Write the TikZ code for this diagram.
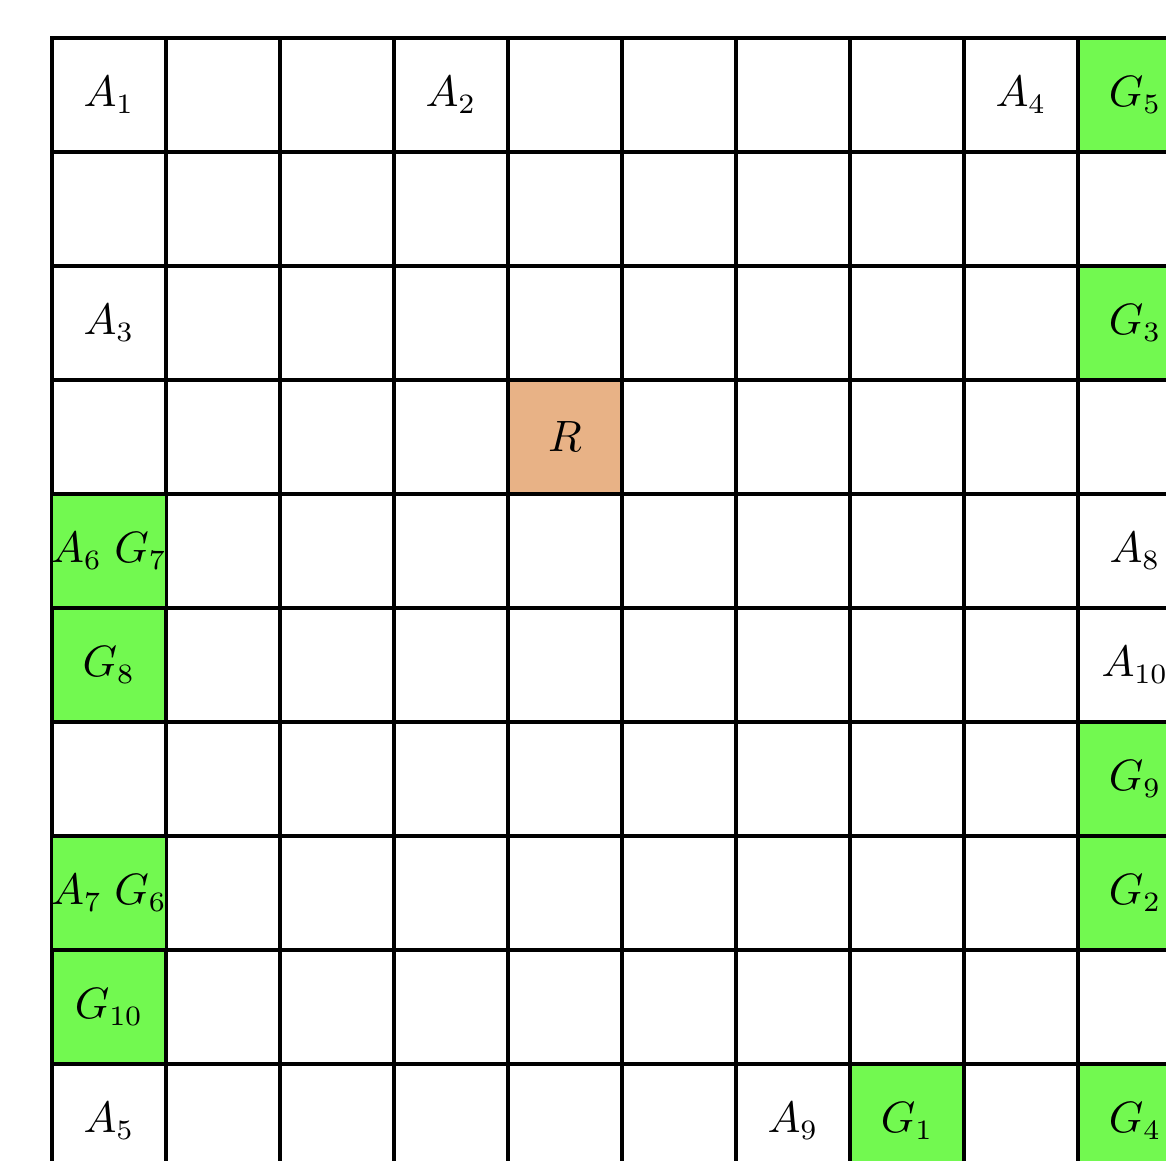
\documentclass[tikz,border=0pt]{standalone}
\usepackage{amsmath,amssymb}
\usepackage{xcolor}
\usepackage{tikz}
\definecolor{goalc}{RGB}{114,249,80}
\definecolor{robc}{RGB}{232,178,134}
\tikzset{cell/.style={draw,line width=0.8pt,minimum size=1cm,inner sep=0pt,outer sep=0pt,
    font=\fontsize{10.5pt}{12pt}\selectfont},
  goal/.style={cell,fill=goalc},
  rob/.style={cell,fill=robc}}

\begin{document}
\begin{tikzpicture}
  \useasboundingbox (-0.456,0.333) rectangle (9.772,-9.851);
  % the empty 10x10 board
  \foreach \r in {0,...,9} \foreach \c in {0,...,9} \node[cell] (c\r-\c) at (\c+0.5,-\r-0.5) {};
  % agents, goals and the robot
  \foreach \r/\c/\s/\t in {0/0/cell/{$A_1$},0/3/cell/{$A_2$},0/8/cell/{$A_4$},0/9/goal/{$G_5$},
      2/0/cell/{$A_3$},2/9/goal/{$G_3$},3/4/rob/{$R$},
      4/0/goal/{$A_6\;G_7$},4/9/cell/{$A_8$},5/0/goal/{$G_8$},5/9/cell/{$A_{10}$},
      6/9/goal/{$G_9$},7/0/goal/{$A_7\;G_6$},7/9/goal/{$G_2$},8/0/goal/{$G_{10}$},
      9/0/cell/{$A_5$},9/6/cell/{$A_9$},9/7/goal/{$G_1$},9/9/goal/{$G_4$}}
    \node[\s] (l\r-\c) at (c\r-\c) {\t};
\end{tikzpicture}
\end{document}
